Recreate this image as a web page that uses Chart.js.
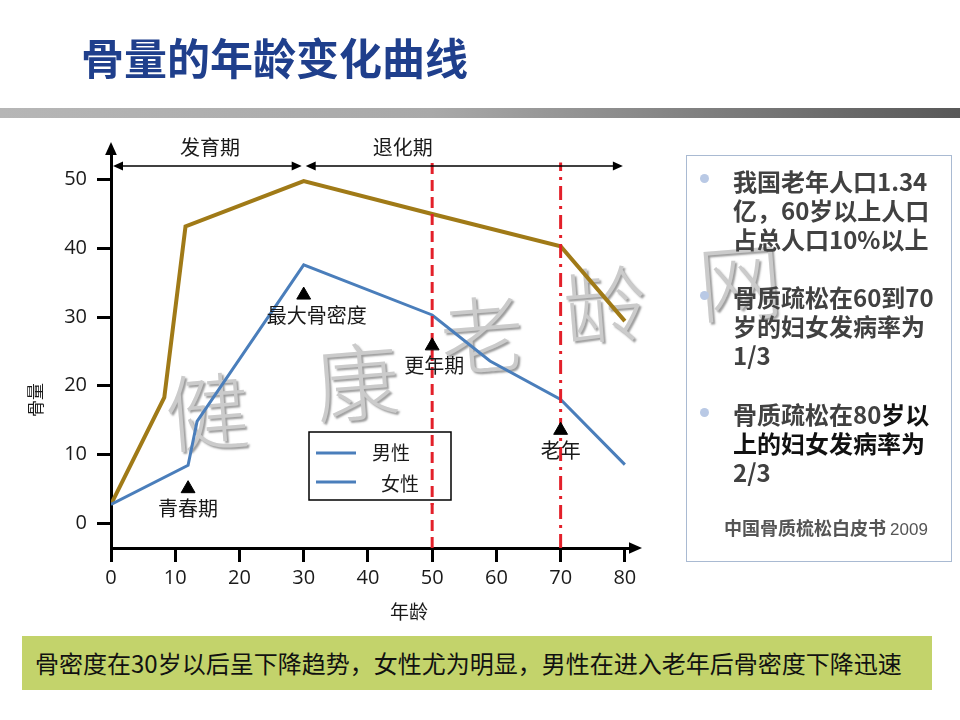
<!DOCTYPE html>
<html><head><meta charset="utf-8">
<script src="https://cdn.jsdelivr.net/npm/chart.js@4/dist/chart.umd.min.js"></script>
<style>
html,body{margin:0;padding:0;background:#fff;width:960px;height:720px;overflow:hidden;}
body{position:relative;font-family:"Noto Sans CJK SC","Noto Sans",sans-serif;}
#c{position:absolute;left:0;top:0;z-index:0;}
#title{position:absolute;left:81px;top:26px;font-size:43px;font-weight:700;color:#1f3f8c;line-height:60px;white-space:nowrap;z-index:2;}
#bar{position:absolute;left:0;top:108px;width:960px;height:10px;background:linear-gradient(to right,#b6b6b6 0%,#a9a9a9 45%,#585858 100%);z-index:2;}
#panel{position:absolute;left:686px;top:155px;width:266px;height:407px;border:1px solid #a9bad2;box-sizing:border-box;z-index:2;}
.bul{position:absolute;left:13px;width:9px;height:9px;border-radius:50%;background:#b9c9e5;}
.p{position:absolute;left:46px;font-size:24px;font-weight:700;line-height:29px;color:#414141;white-space:nowrap;}
.blk{color:#111;}
#src{position:absolute;left:37px;top:360px;font-size:18px;font-weight:700;color:#555;white-space:nowrap;line-height:22px;}
#src span{font-weight:400;font-family:"Liberation Sans",sans-serif;font-size:17px;}
#foot{position:absolute;left:22px;top:636px;width:910px;height:54px;background:#c3d36b;z-index:2;}
#foot div{position:absolute;left:13px;top:0;line-height:54px;font-size:24px;color:#111;letter-spacing:0;white-space:nowrap;}
</style></head>
<body>
<canvas id="c" width="960" height="720"></canvas>
<div id="title">骨量的年龄变化曲线</div>
<div id="bar"></div>
<div id="panel">
  <div class="bul" style="top:18px"></div>
  <div class="p" style="top:10px">我国老年人口1.34<br>亿，60岁以上人口<br>占总人口10%以上</div>
  <div class="bul" style="top:135px"></div>
  <div class="p" style="top:126px">骨质疏松在60到70<br>岁的妇女发病率为<br>1/3</div>
  <div class="bul" style="top:252px"></div>
  <div class="p" style="top:243px">骨质疏松在80<span class="blk">岁以</span><br><span class="blk">上的妇女发病率为</span><br>2/3</div>
  <div id="src">中国骨质梳松白皮书 <span>2009</span></div>
</div>
<div id="foot"><div>骨密度在30岁以后呈下降趋势，女性尤为明显，男性在进入老年后骨密度下降迅速</div></div>
<script>
// ---- data ----
const seriesNames = ['男性', '女性'];
const maleAge  = [0, 8.3, 11.6, 30, 50, 70, 80];
const maleBone = [2.7, 18.3, 43.2, 49.8, 45.0, 40.3, 29.4];
const femaleAge  = [0, 12, 13.4, 30, 50, 59, 70, 80];
const femaleBone = [2.7, 8.4, 14.8, 37.6, 30.3, 23.6, 18.0, 8.5];
const xTicks = [0, 10, 20, 30, 40, 50, 60, 70, 80];
const yTicks = [0, 10, 20, 30, 40, 50];
const markerAges = [12, 30, 50, 70];
const markerBone = [5.0, 33.2, 25.8, 13.5];
const markerNames = ['青春期', '最大骨密度', '更年期', '老年'];
const stageNames = ['发育期', '退化期'];
const stageBounds = [0, 30, 80];
const stageLevel = 52.0;
const refAges = [50, 70];
const refTop = 52.5;
const xTitle = '年龄';
const yTitle = '骨量';
const watermark = ['健', '康', '老', '龄', '网'];

const Y_MIN = -3.64, Y_MAX = 53.6, X_MIN = 0, X_MAX = 80.8;
const cjk = '"Noto Sans CJK SC", sans-serif';

function pts(xs, ys) { return xs.map((x, i) => ({x: x, y: ys[i]})); }

const datasets = [
  {label: 'markers', data: pts(markerAges, markerBone), showLine: false, pointStyle: 'triangle',
   pointRadius: 8, pointBackgroundColor: '#000', pointBorderColor: '#000', pointBorderWidth: 1},
  {label: 'ref1', data: [{x: refAges[0], y: Y_MIN}, {x: refAges[0], y: refTop}], showLine: true, pointRadius: 0,
   borderColor: '#e3202a', borderWidth: 3, borderDash: [11, 6], clip: false},
  {label: 'ref2', data: [{x: refAges[1], y: Y_MIN}, {x: refAges[1], y: refTop}], showLine: true, pointRadius: 0,
   borderColor: '#e3202a', borderWidth: 3, borderDash: [14, 6, 3, 6], clip: false},
  {label: seriesNames[1], data: pts(femaleAge, femaleBone), showLine: true, pointRadius: 0,
   borderColor: '#4a7ebb', borderWidth: 3, tension: 0},
  {label: seriesNames[0], data: pts(maleAge, maleBone), showLine: true, pointRadius: 0,
   borderColor: '#a07a17', borderWidth: 4, tension: 0}
];

function tri(ctx, x, y, dir, s) {
  ctx.beginPath();
  if (dir === 'l') { ctx.moveTo(x, y); ctx.lineTo(x + s, y - s * 0.45); ctx.lineTo(x + s, y + s * 0.45); }
  else if (dir === 'r') { ctx.moveTo(x, y); ctx.lineTo(x - s, y - s * 0.45); ctx.lineTo(x - s, y + s * 0.45); }
  else if (dir === 'u') { ctx.moveTo(x, y); ctx.lineTo(x - s * 0.45, y + s); ctx.lineTo(x + s * 0.45, y + s); }
  ctx.closePath(); ctx.fill();
}

const deco = {
  id: 'deco',
  beforeDatasetsDraw(chart) {
    const ctx = chart.ctx;
    const pos = [[207, 412], [357, 382], [482, 335], [605, 305], [740, 282]];
    ctx.save();
    ctx.font = '300 84px "Noto Sans CJK SC", sans-serif';
    ctx.textAlign = 'center'; ctx.textBaseline = 'middle';
    watermark.forEach((ch, i) => {
      ctx.save();
      ctx.translate(pos[i][0], pos[i][1]);
      ctx.rotate(-0.08);
      ctx.shadowColor = 'rgba(90,90,90,0.6)'; ctx.shadowOffsetX = 2; ctx.shadowOffsetY = 2; ctx.shadowBlur = 2;
      ctx.fillStyle = '#cbcbcb';
      ctx.fillText(ch, 0, 0);
      ctx.restore();
    });
    ctx.restore();
  },
  afterDraw(chart) {
    const ctx = chart.ctx, xs = chart.scales.x, ys = chart.scales.y, ca = chart.chartArea;
    ctx.save();
    ctx.fillStyle = '#000'; ctx.strokeStyle = '#000';
    // axis arrows
    tri(ctx, ca.left, ca.top - 13, 'u', 13);
    tri(ctx, ca.right + 12, ca.bottom, 'r', 13);
    // stage arrows
    const sy = ys.getPixelForValue(stageLevel);
    ctx.lineWidth = 1.5;
    ctx.font = '20px ' + cjk; ctx.textAlign = 'center'; ctx.textBaseline = 'middle';
    for (let i = 0; i < stageNames.length; i++) {
      const a = xs.getPixelForValue(stageBounds[i]) + 2, b = xs.getPixelForValue(stageBounds[i + 1]) - 2;
      ctx.beginPath(); ctx.moveTo(a + 4, sy); ctx.lineTo(b - 4, sy); ctx.stroke();
      tri(ctx, a, sy, 'l', 10); tri(ctx, b, sy, 'r', 10);
      ctx.fillStyle = '#1a1a1a';
      ctx.fillText(stageNames[i], xs.getPixelForValue(stageBounds[i]) + 99, sy - 19);
      ctx.fillStyle = '#000';
    }
    // marker labels
    ctx.fillStyle = '#1a1a1a';
    ctx.font = '20px ' + cjk;
    const dx = [0, 13, 2, 0];
    markerNames.forEach((t, i) => {
      ctx.fillText(t, xs.getPixelForValue(markerAges[i]) + dx[i], ys.getPixelForValue(markerBone[i]) + 20);
    });
    // axis titles
    ctx.font = '19px ' + cjk;
    ctx.fillText(xTitle, 409, 612);
    ctx.save(); ctx.translate(36, 400); ctx.rotate(-Math.PI / 2);
    ctx.font = '17px ' + cjk; ctx.fillText(yTitle, 0, 0); ctx.restore();
    // legend
    ctx.fillStyle = '#fff';
    ctx.fillRect(309, 432, 142, 68);
    ctx.lineWidth = 1.5; ctx.strokeStyle = '#000';
    ctx.strokeRect(309, 432, 142, 68);
    ctx.strokeStyle = '#4a7ebb'; ctx.lineWidth = 3;
    [453, 482].forEach(y => { ctx.beginPath(); ctx.moveTo(316, y); ctx.lineTo(356, y); ctx.stroke(); });
    ctx.fillStyle = '#1a1a1a'; ctx.font = '19px ' + cjk; ctx.textAlign = 'left';
    ctx.fillText(seriesNames[0], 372, 453);
    ctx.fillText(seriesNames[1], 381, 484);
    ctx.restore();
  }
};

// red reference line drawn over the legend box
const refOver = {
  id: 'refOver',
  afterDraw(chart) {
    const meta = chart.getDatasetMeta(1);
    const ctx = chart.ctx;
    ctx.save();
    ctx.beginPath();
    ctx.rect(420, 430, 40, 75); ctx.clip();
    meta.controller.draw();
    ctx.restore();
  }
};

new Chart(document.getElementById('c'), {
  type: 'scatter',
  data: {datasets: datasets},
  options: {
    responsive: false, animation: false, devicePixelRatio: 1,
    layout: {padding: {left: 51, right: 330, top: 155, bottom: 112}},
    plugins: {legend: {display: false}, tooltip: {enabled: false}, title: {display: false}},
    scales: {
      x: {
        type: 'linear', min: X_MIN, max: X_MAX,
        afterBuildTicks: s => { s.ticks = xTicks.map(v => ({value: v})); },
        afterFit: s => { s.height = 60; },
        grid: {drawOnChartArea: false, drawTicks: true, tickLength: 14, tickWidth: 3, tickColor: '#000'},
        border: {display: true, color: '#000', width: 3},
        ticks: {autoSkip: false, maxRotation: 0, padding: 4, color: '#1a1a1a',
                font: {family: '"Open Sans", sans-serif', size: 20}}
      },
      y: {
        type: 'linear', min: Y_MIN, max: Y_MAX,
        afterBuildTicks: s => { s.ticks = yTicks.map(v => ({value: v})); },
        afterFit: s => { s.width = 60; },
        grid: {drawOnChartArea: false, drawTicks: true, tickLength: 14, tickWidth: 3, tickColor: '#000'},
        border: {display: true, color: '#000', width: 3},
        ticks: {autoSkip: false, padding: 10, color: '#1a1a1a',
                font: {family: '"Open Sans", sans-serif', size: 20}}
      }
    }
  },
  plugins: [deco, refOver]
});
</script>
</body></html>
